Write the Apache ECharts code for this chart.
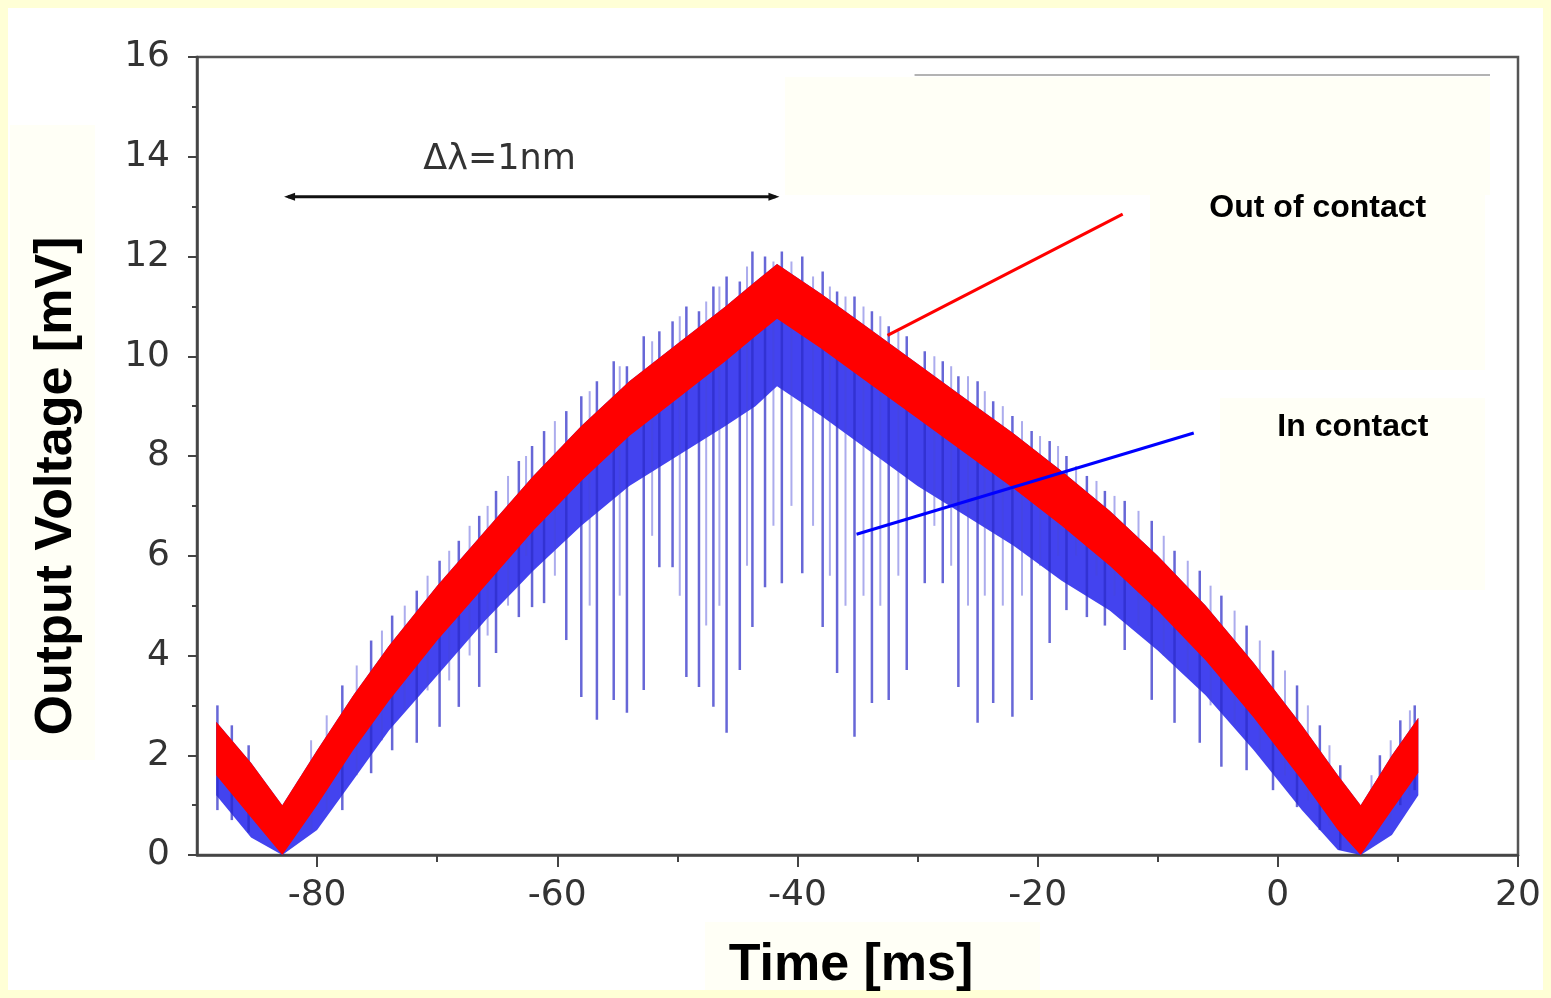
<!DOCTYPE html>
<html><head><meta charset="utf-8">
<script src="https://cdn.jsdelivr.net/npm/echarts@6/dist/echarts.min.js"></script>
<style>html,body{margin:0;padding:0;background:#FFFFD6;} #c{width:1551px;height:998px;}</style>
</head><body><div id="c"></div>
<script>
// ---- axis ticks ----
const xMajorTicks = [-80, -60, -40, -20, 0, 20];
const xMinorTicks = [-70, -50, -30, -10, 10];

// ---- "Out of contact" (red) band: x, upper edge, lower edge [mV] ----
const redX      = [-88.4, -85.5, -82.9, -80, -77, -74, -70, -66, -62, -58, -54, -50, -46, -43.5, -41.7, -38, -34, -30, -26, -22, -18, -14, -10, -6, -2, 2, 5, 6.9, 9.5, 11.7];
const redTop    = [2.67, 1.85, 1.0, 2.1, 3.2, 4.2, 5.4, 6.5, 7.6, 8.6, 9.5, 10.25, 11.0, 11.5, 11.85, 11.25, 10.55, 9.85, 9.15, 8.45, 7.7, 6.9, 6.0, 5.0, 3.85, 2.6, 1.6, 1.0, 2.0, 2.75];
const redBottom = [1.6, 0.75, 0.0, 1.0, 2.1, 3.1, 4.3, 5.4, 6.5, 7.5, 8.4, 9.15, 9.9, 10.4, 10.75, 10.15, 9.45, 8.75, 8.05, 7.35, 6.6, 5.8, 4.9, 3.9, 2.75, 1.5, 0.5, 0.0, 0.9, 1.65];

// ---- "In contact" (blue) dense body lower edge, same x as red ----
const blueLow   = [1.2, 0.35, 0.0, 0.5, 1.5, 2.5, 3.6, 4.7, 5.7, 6.6, 7.4, 8.0, 8.6, 9.0, 9.4, 8.8, 8.1, 7.4, 6.8, 6.2, 5.5, 4.9, 4.1, 3.2, 2.1, 0.9, 0.1, 0.0, 0.4, 1.2];

// ---- "In contact" (blue) main spikes: x, top, bottom [mV] ----
const spikeX      = [-88.3, -87.1, -85.7, -77.9, -75.5, -73.75, -71.7, -69.8, -68.2, -66.5, -65.1, -63.2, -62.1, -61.1, -59.25, -58.0, -56.7, -55.3, -54.2, -52.8, -51.5, -50.4, -49.25, -48.2, -47.0, -45.9, -44.8, -43.75, -42.7, -41.3, -39.6, -37.9, -36.7, -35.25, -33.8, -32.4, -30.9, -29.4, -27.9, -26.6, -25.0, -23.7, -22.1, -20.5, -19.0, -17.6, -15.9, -14.4, -12.75, -10.5, -8.6, -6.5, -4.7, -2.6, -0.4, 1.6, 3.5, 5.2, 8.5, 10.2, 11.4];
const spikeTop    = [3.0, 2.6, 2.2, 3.4, 4.3, 4.8, 5.3, 5.9, 6.3, 6.8, 7.3, 7.9, 8.2, 8.5, 8.9, 9.2, 9.5, 9.9, 9.8, 10.4, 10.5, 10.7, 11.0, 10.9, 11.4, 11.6, 11.5, 12.1, 12.0, 12.1, 12.0, 11.7, 11.3, 11.2, 10.9, 10.6, 10.4, 10.1, 9.9, 9.6, 9.5, 9.1, 8.8, 8.5, 8.3, 8.0, 7.6, 7.3, 7.1, 6.7, 6.1, 5.7, 5.2, 4.6, 4.1, 3.4, 2.6, 1.8, 2.0, 2.7, 3.0];
const spikeBottom = [0.9, 0.7, 0.45, 0.9, 1.64, 2.1, 2.25, 2.57, 2.97, 3.37, 4.05, 4.77, 4.97, 5.05, 4.31, 3.17, 2.71, 3.11, 2.85, 3.31, 5.77, 5.77, 3.57, 3.37, 2.97, 2.45, 3.71, 4.57, 5.37, 5.45, 5.65, 4.57, 3.65, 2.37, 3.05, 3.11, 3.71, 5.45, 5.45, 3.37, 2.65, 3.05, 2.77, 3.11, 4.25, 4.91, 4.77, 4.6, 4.11, 3.11, 2.65, 2.25, 1.77, 1.7, 1.3, 0.96, 0.5, 0.1, 0.6, 1.0, 1.3];

// ---- "In contact" (blue) fainter secondary spikes: x, top, bottom [mV] ----
const faintX      = [-80.5, -79.2, -76.7, -74.6, -72.7, -70.8, -69.0, -67.3, -65.8, -64.1, -62.6, -60.2, -57.3, -54.8, -52.1, -49.8, -47.6, -46.5, -44.2, -42.0, -40.5, -38.7, -37.3, -36.0, -34.5, -33.1, -31.6, -28.6, -27.2, -25.8, -24.4, -22.9, -21.3, -19.8, -18.3, -16.8, -15.1, -13.6, -11.6, -9.5, -7.5, -5.6, -3.6, -1.5, 0.6, 2.5, 4.3, 7.8, 9.4, 11.0];
const faintTop    = [2.3, 2.8, 3.8, 4.5, 5.0, 5.6, 6.1, 6.6, 7.0, 7.6, 8.0, 8.7, 9.3, 9.8, 10.3, 10.8, 11.1, 11.4, 11.8, 11.9, 11.9, 11.6, 11.4, 11.2, 11.0, 10.8, 10.5, 10.0, 9.8, 9.6, 9.3, 9.0, 8.7, 8.4, 8.2, 7.8, 7.5, 7.2, 6.9, 6.4, 5.9, 5.4, 4.9, 4.3, 3.7, 3.0, 2.2, 1.6, 2.3, 2.9];
const faintBottom = [0.5, 0.9, 1.6, 2.3, 2.9, 3.3, 3.5, 4.0, 4.4, 5.0, 6.0, 5.6, 5.0, 5.2, 6.4, 5.2, 4.6, 5.0, 5.8, 6.6, 7.0, 6.6, 5.6, 5.0, 5.2, 5.0, 5.6, 6.6, 5.8, 5.0, 5.2, 5.0, 5.2, 5.8, 6.0, 6.0, 5.6, 5.2, 4.6, 4.0, 3.6, 3.0, 2.6, 2.1, 1.6, 1.1, 0.6, 0.4, 0.7, 1.2];

// ---- annotations (data coordinates) ----
const arrowX = [-82.75, -41.5];
const arrowY = 13.2;
const deltaLabel = { text: 'Δλ=1nm', x: -64.8, y: 13.93 };
const outLabel = { text: 'Out of contact', x: 3.33, y: 12.97 };
const inLabel = { text: 'In contact', x: 6.25, y: 8.58 };
const redPointer = [[-12.92, 12.85], [-32.5, 10.42]];
const bluePointer = [[-7.0, 8.46], [-35.08, 6.43]];
const legendRule = [[-30.25, 15.64], [17.67, 15.64]];

const chart = echarts.init(document.getElementById('c'), null, { renderer: 'canvas' });

const bandData = redX.map((x, i) => [x, redTop[i], redBottom[i], blueLow[i]]);
const spikeData = spikeX.map((x, i) => [x, spikeTop[i], spikeBottom[i]]);
const faintData = faintX.map((x, i) => [x, faintTop[i], faintBottom[i]]);

function bandRender(loIdx, hiIdx, color) {
  return function (params, api) {
    if (params.dataIndex !== 0) return null;
    const upper = [], lower = [];
    for (let i = 0; i < bandData.length; i++) {
      upper.push(api.coord([bandData[i][0], bandData[i][hiIdx]]));
      lower.push(api.coord([bandData[i][0], bandData[i][loIdx]]));
    }
    return { type: 'polygon', shape: { points: upper.concat(lower.reverse()) }, style: { fill: color } };
  };
}
function spikeRender(color, width) {
  return function (params, api) {
    const p1 = api.coord([api.value(0), api.value(1)]);
    const p2 = api.coord([api.value(0), api.value(2)]);
    return { type: 'line', shape: { x1: p1[0], y1: p1[1], x2: p2[0], y2: p2[1] },
      style: { stroke: color, lineWidth: width } };
  };
}

const tickFont = { fontFamily: 'DejaVu Sans', fontSize: 36, color: '#333' };

const option = {
  backgroundColor: '#FFFFD6',
  animation: false,
  grid: { left: 197, right: 33, top: 57, bottom: 143, show: true, borderColor: '#555', borderWidth: 2.5, backgroundColor: 'transparent' },
  xAxis: [{
    type: 'value', min: -90, max: 20,
    axisLine: { show: true, onZero: false, lineStyle: { color: '#444', width: 2.5 } },
    axisTick: { show: true, customValues: xMajorTicks, length: 12, lineStyle: { color: '#444', width: 2 } },
    axisLabel: Object.assign({ customValues: xMajorTicks, margin: 23 }, tickFont),
    splitLine: { show: false }
  }, {
    type: 'value', min: -90, max: 20, position: 'bottom',
    axisLine: { show: false },
    axisTick: { show: true, customValues: xMinorTicks, length: 7, lineStyle: { color: '#444', width: 2 } },
    axisLabel: { show: false },
    splitLine: { show: false }
  }],
  yAxis: {
    type: 'value', min: 0, max: 16, interval: 2,
    axisLine: { show: true, onZero: false, lineStyle: { color: '#444', width: 2.5 } },
    axisTick: { show: true, length: 9, lineStyle: { color: '#444', width: 2 } },
    minorTick: { show: true, splitNumber: 2, length: 5, lineStyle: { color: '#444', width: 2 } },
    axisLabel: Object.assign({ margin: 27 }, tickFont),
    splitLine: { show: false }
  },
  series: [
    { type: 'custom', name: 'In contact body', z: 2, data: bandData, encode: { x: 0, y: [1, 3] },
      renderItem: bandRender(3, 1, 'rgba(20,20,235,0.8)') },
    { type: 'custom', name: 'In contact (faint)', z: 3, data: faintData, encode: { x: 0, y: [1, 2] },
      renderItem: spikeRender('rgba(70,70,215,0.45)', 2) },
    { type: 'custom', name: 'In contact', z: 3, data: spikeData, encode: { x: 0, y: [1, 2] },
      renderItem: spikeRender('rgba(45,45,200,0.72)', 2.5) },
    { type: 'custom', name: 'Out of contact', z: 4, data: bandData, encode: { x: 0, y: [1, 2] },
      renderItem: bandRender(2, 1, '#FF0000') }
  ]
};
chart.setOption(option);

function px(p) { return chart.convertToPixel({ gridIndex: 0 }, p); }

const a0 = px([arrowX[0], arrowY]), a1 = px([arrowX[1], arrowY]);
const rp0 = px(redPointer[0]), rp1 = px(redPointer[1]);
const bp0 = px(bluePointer[0]), bp1 = px(bluePointer[1]);
const lr0 = px(legendRule[0]), lr1 = px(legendRule[1]);
const dl = px([deltaLabel.x, deltaLabel.y]);
const ol = px([outLabel.x, outLabel.y]);
const il = px([inLabel.x, inLabel.y]);
const ah = 11, aw = 4;

const graphics = [
  { type: 'rect', z: -10, silent: true, shape: { x: 8, y: 8, width: 1535, height: 982 }, style: { fill: '#FFFFFF' } },
  { type: 'rect', z: -9, silent: true, shape: { x: 10, y: 125, width: 85, height: 635 }, style: { fill: '#FFFFF6' } },
  { type: 'rect', z: -9, silent: true, shape: { x: 705, y: 922, width: 335, height: 68 }, style: { fill: '#FFFFF6' } },
  { type: 'rect', z: -9, silent: true, shape: { x: 1150, y: 195, width: 335, height: 175 }, style: { fill: '#FFFFF6' } },
  { type: 'rect', z: -9, silent: true, shape: { x: 1220, y: 398, width: 265, height: 192 }, style: { fill: '#FFFFF6' } },
  { type: 'rect', z: -9, silent: true, shape: { x: 785, y: 77, width: 705, height: 118 }, style: { fill: '#FFFFF6' } },
  { type: 'line', z: 10, shape: { x1: lr0[0], y1: lr0[1], x2: lr1[0], y2: lr1[1] }, style: { stroke: '#9a9a9a', lineWidth: 1.5 } },
  // titles
  { type: 'text', z: 10, x: 57, y: 486, rotation: Math.PI / 2,
    style: { text: 'Output Voltage [mV]', font: 'bold 52px "Liberation Sans", Arial, sans-serif', fill: '#000', align: 'center', verticalAlign: 'middle' } },
  { type: 'text', z: 10, x: 851, y: 966,
    style: { text: 'Time [ms]', font: 'bold 52px "Liberation Sans", Arial, sans-serif', fill: '#000', align: 'center', verticalAlign: 'middle' } },
  // delta lambda arrow
  { type: 'line', z: 10, shape: { x1: a0[0] + 4, y1: a0[1], x2: a1[0] - 4, y2: a1[1] }, style: { stroke: '#111', lineWidth: 3 } },
  { type: 'polygon', z: 10, shape: { points: [[a0[0], a0[1]], [a0[0] + ah, a0[1] - aw], [a0[0] + ah, a0[1] + aw]] }, style: { fill: '#111' } },
  { type: 'polygon', z: 10, shape: { points: [[a1[0], a1[1]], [a1[0] - ah, a1[1] - aw], [a1[0] - ah, a1[1] + aw]] }, style: { fill: '#111' } },
  { type: 'text', z: 10, x: dl[0], y: dl[1],
    style: { text: deltaLabel.text, font: '35px "DejaVu Sans", sans-serif', fill: '#333', align: 'center', verticalAlign: 'middle' } },
  // pointers + labels
  { type: 'line', z: 10, shape: { x1: rp0[0], y1: rp0[1], x2: rp1[0], y2: rp1[1] }, style: { stroke: '#FF0000', lineWidth: 3 } },
  { type: 'line', z: 10, shape: { x1: bp0[0], y1: bp0[1], x2: bp1[0], y2: bp1[1] }, style: { stroke: '#0000FF', lineWidth: 3 } },
  { type: 'text', z: 10, x: ol[0], y: ol[1],
    style: { text: outLabel.text, font: 'bold 32px "Liberation Sans", Arial, sans-serif', fill: '#000', align: 'center', verticalAlign: 'middle' } },
  { type: 'text', z: 10, x: il[0], y: il[1],
    style: { text: inLabel.text, font: 'bold 32px "Liberation Sans", Arial, sans-serif', fill: '#000', align: 'center', verticalAlign: 'middle' } }
];
chart.setOption({ graphic: graphics });
</script>
</body></html>
